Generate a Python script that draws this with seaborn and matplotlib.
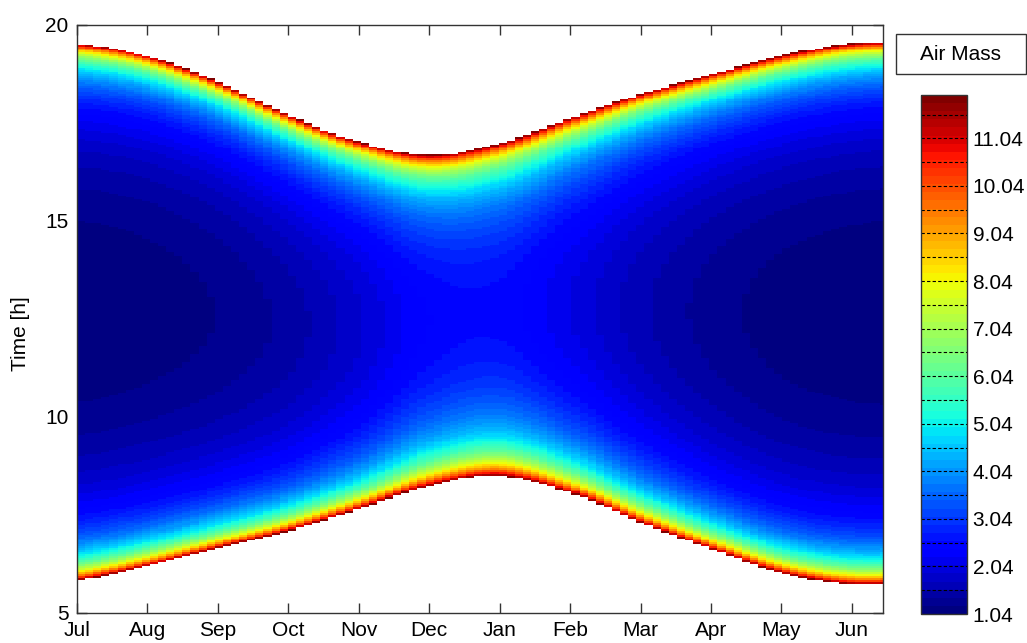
import numpy as np
import pandas as pd
import matplotlib
matplotlib.use("Agg")
import matplotlib.pyplot as plt
import seaborn as sns
from matplotlib.patches import Rectangle

# ---- data ----
months = ["Jul", "Aug", "Sep", "Oct", "Nov", "Dec", "Jan", "Feb", "Mar", "Apr", "May", "Jun"]
# time (h) of the lower (morning) edge of the coloured field, at the start of each month
rise_h = [5.84, 6.20, 6.65, 7.10, 7.65, 8.25, 8.50, 8.07, 7.31, 6.63, 6.03, 5.75]
# time (h) of the upper (evening) edge of the coloured field
set_h = [19.53, 19.21, 18.55, 17.70, 17.02, 16.68, 16.98, 17.62, 18.24, 18.74, 19.21, 19.53]
# minimum (midday) air mass at the start of each month
noon_airmass = [1.05, 1.10, 1.22, 1.45, 1.85, 2.40, 2.50, 2.05, 1.60, 1.30, 1.13, 1.06]
edge_airmass = 12.0
time_ticks = [5, 10, 15, 20]
cbar_ticks = [1.04, 2.04, 3.04, 4.04, 5.04, 6.04, 7.04, 8.04, 9.04, 10.04, 11.04]
cmin, cmax = 1.04, 11.95

# ---- grid ----
dt = 0.05          # hours per row
dd = 3.5           # days per column
span_days = 348.0
month_len = 365.0 / 12
ncols = int(np.ceil(span_days / dd))
times = 5 + (np.arange(int(round(15 / dt))) + 0.5) * dt
days = (np.arange(ncols) + 0.5) * dd


def periodic_curve(vals, u):
    v = np.asarray(vals, float)
    n = len(v)
    k = np.floor(u).astype(int)
    f = u - k
    p0, p1, p2, p3 = v[(k - 1) % n], v[k % n], v[(k + 1) % n], v[(k + 2) % n]
    return 0.5 * (2 * p1 + (-p0 + p2) * f + (2 * p0 - 5 * p1 + 4 * p2 - p3) * f ** 2
                  + (-p0 + 3 * p1 - 3 * p2 + p3) * f ** 3)


u = days / month_len
rise = periodic_curve(rise_h, u)
sset = periodic_curve(set_h, u)
m0 = periodic_curve(noon_airmass, u)
noon = (rise + sset) / 2
half = (sset - rise) / 2
s0 = 1 / m0
sE = 1 / edge_airmass
b = (s0 - sE) / (1 - np.cos(half * np.pi / 12))
a = s0 - b
T = times[:, None]
sin_e = a[None, :] + b[None, :] * np.cos((T - noon[None, :]) * np.pi / 12)
with np.errstate(divide="ignore", invalid="ignore"):
    am = np.where(sin_e >= sE * 0.999, 1 / sin_e, np.nan)
df = pd.DataFrame(am, index=np.round(times, 3), columns=np.round(days, 1))

# ---- plot ----
sns.set_theme(style="white")
plt.rcParams["font.family"] = ["Liberation Sans", "DejaVu Sans"]
fig = plt.figure(figsize=(10.27, 6.43), dpi=100)
W, H = 1027, 643
ax = fig.add_axes([77 / W, (H - 613) / H, 806 / W, 588 / H])
cmap = matplotlib.colormaps["jet"].resampled(64)
sns.heatmap(df, cmap=cmap, vmin=cmin, vmax=cmax, cbar=False, ax=ax,
            xticklabels=False, yticklabels=False)
ax.invert_yaxis()
ax.set_xlim(0, span_days / dd)
ax.set_ylim(0, len(times))
ax.set_xticks([k * month_len / dd for k in range(len(months))])
ax.set_xticklabels(months)
ax.set_yticks([(h - 5) / dt for h in time_ticks])
ax.set_yticklabels([str(h) for h in time_ticks])
ax.set_xlabel("")
ax.set_ylabel("Time [h]", fontsize=15, color="black")
ax.yaxis.set_label_coords(-0.058, 0.475)
ax.tick_params(direction="in", length=7, width=1, top=True, right=True,
               bottom=True, left=True, labelsize=15, pad=6, colors="#333333",
               labelcolor="black")
for s in ax.spines.values():
    s.set_visible(True)
    s.set_color("#333333")
    s.set_linewidth(1)

cax = fig.add_axes([921 / W, (H - 614) / H, 46 / W, 519 / H])
cb = fig.colorbar(ax.collections[0], cax=cax)
cb.set_ticks(cbar_ticks)
cb.set_ticklabels([f"{t:.2f}" for t in cbar_ticks])
cb.ax.tick_params(labelsize=15, direction="in", length=6, left=True, right=True,
                  colors="#333333", labelcolor="black", pad=4)
cb.outline.set_linewidth(1)
cb.outline.set_edgecolor("#333333")
for v in np.arange(cmin, cmax, 0.5):
    cax.axhline(v, color="black", ls=(0, (3, 2)), lw=0.8)

fig.add_artist(Rectangle((896 / W, (H - 74) / H), 130 / W, 40 / H,
                         transform=fig.transFigure, facecolor="white",
                         edgecolor="#333333", lw=1))
fig.text(961 / W, (H - 54) / H, "Air Mass", ha="center", va="center",
         fontsize=15, color="black")

fig.savefig("out.png", dpi=100, facecolor="white")
